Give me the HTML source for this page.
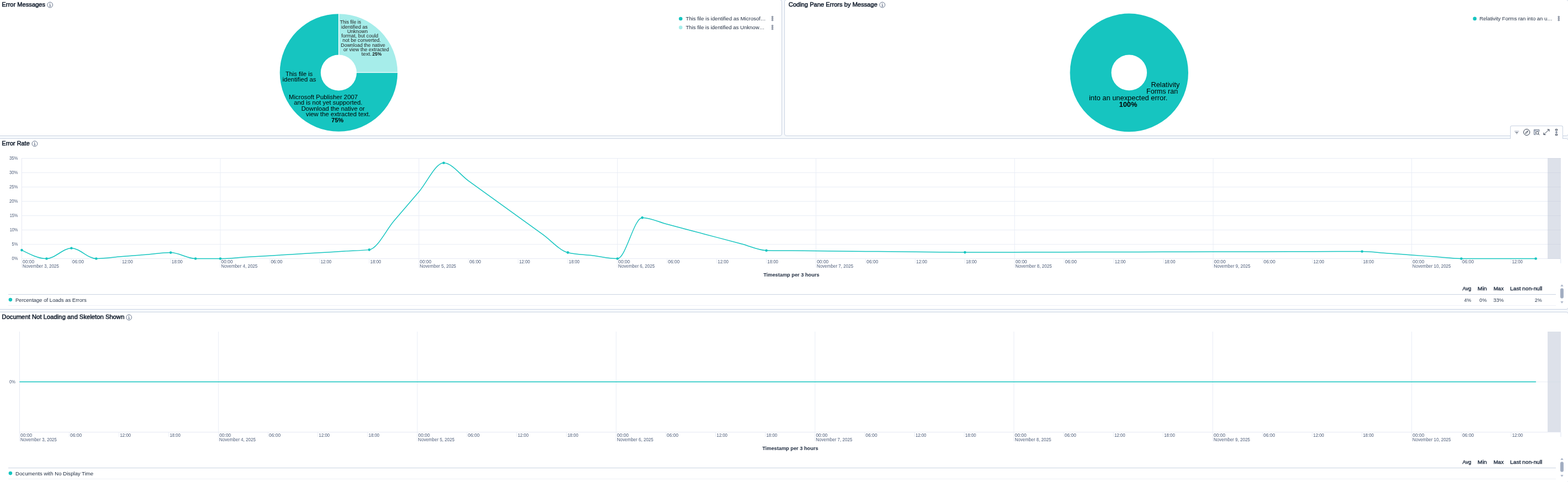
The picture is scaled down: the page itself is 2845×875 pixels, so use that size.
<!DOCTYPE html>
<html lang="en">
<head>
<meta charset="utf-8">
<title>Dashboard</title>
<style>
html,body{margin:0;padding:0;}
body{width:2845px;height:875px;overflow:hidden;background:#F6F9FC;position:relative;font-family:"Liberation Sans", sans-serif;}
.panel{position:absolute;box-sizing:border-box;background:#fff;border:1px solid #CAD3E2;border-radius:4px;}
#p1{left:-6px;top:-1px;width:1425px;height:248px;}
#p2{left:1423px;top:-1px;width:1423px;height:248px;}
#p3{left:-6px;top:251px;width:2852px;height:311px;}
#p4{left:-6px;top:566px;width:2852px;height:311px;}
#tb{position:absolute;box-sizing:border-box;left:2740px;top:228px;width:96px;height:24px;background:#fff;border:1px solid #CAD3E2;border-bottom:none;border-radius:3px 3px 0 0;}
svg{position:absolute;left:0;top:0;}
text{font-family:"Liberation Sans", sans-serif;}
.ttl{stroke:#111C2C;stroke-width:0.5px;}
.sb{stroke:#1D2A3E;stroke-width:0.35px;}
</style>
</head>
<body>
<div class="panel" id="p1"></div>
<div class="panel" id="p2"></div>
<div class="panel" id="p3"></div>
<div class="panel" id="p4"></div>
<div id="tb"></div>
<svg width="2845" height="875" viewBox="0 0 2845 875">
<text x="3.33" y="12.00" font-size="11" fill="#111C2C" textLength="78.82" lengthAdjust="spacingAndGlyphs" class="ttl">Error Messages</text>
<g stroke="#4A5A76" fill="none" stroke-width="0.85"><circle cx="90.8" cy="8.9" r="4.9"/><path d="M89.7 8.0H90.89999999999999V11.3M89.39999999999999 11.3H92.3" stroke-width="0.9"/><circle cx="90.7" cy="6.300000000000001" r="0.6" fill="#4A5A76" stroke="none"/></g>
<path fill="#A6EDEA" d="M614.50 25.20A106.8 106.8 0 0 1 721.30 132.00L647.10 132.00A32.6 32.6 0 0 0 614.50 99.40Z"/>
<path fill="#16C5C0" d="M721.30 132.00A106.8 106.8 0 1 1 614.50 25.20L614.50 99.40A32.6 32.6 0 1 0 647.10 132.00Z"/>
<path d="M614.7 24.200000000000003V99.9M646.6 131.55H722.3" stroke="#fff" stroke-width="1.3" fill="none"/>
<text x="616.81" y="42.60" font-size="8.3" fill="#222" textLength="38.30" lengthAdjust="spacingAndGlyphs">This file is</text>
<text x="619.10" y="51.70" font-size="8.3" fill="#222" textLength="47.93" lengthAdjust="spacingAndGlyphs">identified as</text>
<text x="629.91" y="59.70" font-size="8.3" fill="#222" textLength="37.37" lengthAdjust="spacingAndGlyphs">Unknown</text>
<text x="619.27" y="67.90" font-size="8.3" fill="#222" textLength="66.91" lengthAdjust="spacingAndGlyphs">format, but could</text>
<text x="621.40" y="75.90" font-size="8.3" fill="#222" textLength="69.62" lengthAdjust="spacingAndGlyphs">not be converted.</text>
<text x="618.27" y="85.00" font-size="8.3" fill="#222" textLength="80.63" lengthAdjust="spacingAndGlyphs">Download the native</text>
<text x="623.12" y="93.00" font-size="8.3" fill="#222" textLength="82.75" lengthAdjust="spacingAndGlyphs">or view the extracted</text>
<text x="655.85" y="100.90" font-size="8.3" fill="#222" textLength="18.33" lengthAdjust="spacingAndGlyphs">text.</text>
<text x="675.61" y="100.90" font-size="8.3" fill="#111" font-weight="bold" textLength="16.81" lengthAdjust="spacingAndGlyphs">25%</text>
<text x="517.95" y="137.70" font-size="10.9" fill="#000" textLength="49.25" lengthAdjust="spacingAndGlyphs">This file is</text>
<text x="512.53" y="147.80" font-size="10.9" fill="#000" textLength="61.08" lengthAdjust="spacingAndGlyphs">identified as</text>
<text x="524.07" y="180.00" font-size="10.9" fill="#000" textLength="125.10" lengthAdjust="spacingAndGlyphs">Microsoft Publisher 2007</text>
<text x="533.22" y="189.80" font-size="10.9" fill="#000" textLength="124.12" lengthAdjust="spacingAndGlyphs">and is not yet supported.</text>
<text x="546.68" y="200.50" font-size="10.9" fill="#000" textLength="115.21" lengthAdjust="spacingAndGlyphs">Download the native or</text>
<text x="554.96" y="210.80" font-size="10.9" fill="#000" textLength="116.88" lengthAdjust="spacingAndGlyphs">view the extracted text.</text>
<text x="601.32" y="221.80" font-size="10.9" fill="#000" font-weight="bold" textLength="22.17" lengthAdjust="spacingAndGlyphs">75%</text>
<circle cx="1235.0" cy="34.0" r="3.3" fill="#16C5C0"/>
<text x="1244.28" y="36.70" font-size="9.4" fill="#1D2A3E" textLength="145.12" lengthAdjust="spacingAndGlyphs">This file is identified as Microsof…</text>
<g fill="none" stroke="#3A4761" stroke-width="0.7"><rect x="1400.35" y="29.6" width="2.3" height="1.8" rx="0.2"/><rect x="1400.35" y="32.7" width="2.3" height="1.8" rx="0.2"/><rect x="1400.35" y="35.800000000000004" width="2.3" height="1.8" rx="0.2"/></g>
<circle cx="1235.0" cy="49.9" r="3.3" fill="#A6EDEA"/>
<text x="1244.29" y="52.80" font-size="9.4" fill="#1D2A3E" textLength="142.81" lengthAdjust="spacingAndGlyphs">This file is identified as Unknow…</text>
<g fill="none" stroke="#3A4761" stroke-width="0.7"><rect x="1400.35" y="45.7" width="2.3" height="1.8" rx="0.2"/><rect x="1400.35" y="48.800000000000004" width="2.3" height="1.8" rx="0.2"/><rect x="1400.35" y="51.900000000000006" width="2.3" height="1.8" rx="0.2"/></g>
<text x="1430.68" y="12.00" font-size="11" fill="#111C2C" textLength="161.26" lengthAdjust="spacingAndGlyphs" class="ttl">Coding Pane Errors by Message</text>
<g stroke="#4A5A76" fill="none" stroke-width="0.85"><circle cx="1600.9" cy="8.9" r="4.9"/><path d="M1599.8000000000002 8.0H1601.0V11.3M1599.5 11.3H1602.4" stroke-width="0.9"/><circle cx="1600.8000000000002" cy="6.300000000000001" r="0.6" fill="#4A5A76" stroke="none"/></g>
<path fill="#16C5C0" fill-rule="evenodd" d="M1941.3999999999999 131.9a107.3 107.3 0 1 0 214.6 0a107.3 107.3 0 1 0 -214.6 0zM2016.3999999999999 131.9a32.3 32.3 0 1 0 64.6 0a32.3 32.3 0 1 0 -64.6 0z"/>
<text x="2088.45" y="157.60" font-size="11.9" fill="#000" textLength="52.08" lengthAdjust="spacingAndGlyphs">Relativity</text>
<text x="2080.07" y="169.80" font-size="11.9" fill="#000" textLength="57.14" lengthAdjust="spacingAndGlyphs">Forms ran</text>
<text x="1975.94" y="182.30" font-size="11.9" fill="#000" textLength="142.43" lengthAdjust="spacingAndGlyphs">into an unexpected error.</text>
<text x="2030.59" y="193.80" font-size="11.9" fill="#000" font-weight="bold" textLength="32.74" lengthAdjust="spacingAndGlyphs">100%</text>
<circle cx="2675.8" cy="33.9" r="3.3" fill="#16C5C0"/>
<text x="2684.53" y="36.70" font-size="9.4" fill="#1D2A3E" textLength="132.05" lengthAdjust="spacingAndGlyphs">Relativity Forms ran into an u…</text>
<g fill="none" stroke="#3A4761" stroke-width="0.7"><rect x="2827.0499999999997" y="29.6" width="2.3" height="1.8" rx="0.2"/><rect x="2827.0499999999997" y="32.7" width="2.3" height="1.8" rx="0.2"/><rect x="2827.0499999999997" y="35.800000000000004" width="2.3" height="1.8" rx="0.2"/></g>
<text x="3.35" y="264.00" font-size="11" fill="#111C2C" textLength="50.38" lengthAdjust="spacingAndGlyphs" class="ttl">Error Rate</text>
<g stroke="#4A5A76" fill="none" stroke-width="0.85"><circle cx="63.0" cy="260.9" r="4.9"/><path d="M61.9 260.0H63.1V263.29999999999995M61.6 263.29999999999995H64.5" stroke-width="0.9"/><circle cx="62.9" cy="258.29999999999995" r="0.6" fill="#4A5A76" stroke="none"/></g>
<rect x="2808" y="287" width="24" height="182.5" fill="#DDE1EA"/>
<line x1="39.5" y1="469.5" x2="2832.0" y2="469.5" stroke="#E6E9F3" stroke-width="1" />
<line x1="2808" y1="469.5" x2="2832" y2="469.5" stroke="#D3D8E4" stroke-width="1" />
<text x="21.51" y="472.25" font-size="8.2" fill="#505F7B" textLength="10.86" lengthAdjust="spacingAndGlyphs">0%</text>
<line x1="39.5" y1="443.5" x2="2832.0" y2="443.5" stroke="#E9EDF6" stroke-width="1" />
<line x1="2808" y1="443.5" x2="2832" y2="443.5" stroke="#D3D8E4" stroke-width="1" />
<text x="21.50" y="446.25" font-size="8.2" fill="#505F7B" textLength="10.87" lengthAdjust="spacingAndGlyphs">5%</text>
<line x1="39.5" y1="417.5" x2="2832.0" y2="417.5" stroke="#E9EDF6" stroke-width="1" />
<line x1="2808" y1="417.5" x2="2832" y2="417.5" stroke="#D3D8E4" stroke-width="1" />
<text x="17.64" y="420.25" font-size="8.2" fill="#505F7B" textLength="14.72" lengthAdjust="spacingAndGlyphs">10%</text>
<line x1="39.5" y1="391.5" x2="2832.0" y2="391.5" stroke="#E9EDF6" stroke-width="1" />
<line x1="2808" y1="391.5" x2="2832" y2="391.5" stroke="#D3D8E4" stroke-width="1" />
<text x="17.64" y="394.25" font-size="8.2" fill="#505F7B" textLength="14.72" lengthAdjust="spacingAndGlyphs">15%</text>
<line x1="39.5" y1="365.5" x2="2832.0" y2="365.5" stroke="#E9EDF6" stroke-width="1" />
<line x1="2808" y1="365.5" x2="2832" y2="365.5" stroke="#D3D8E4" stroke-width="1" />
<text x="16.91" y="368.25" font-size="8.2" fill="#505F7B" textLength="15.46" lengthAdjust="spacingAndGlyphs">20%</text>
<line x1="39.5" y1="339.5" x2="2832.0" y2="339.5" stroke="#E9EDF6" stroke-width="1" />
<line x1="2808" y1="339.5" x2="2832" y2="339.5" stroke="#D3D8E4" stroke-width="1" />
<text x="16.91" y="342.25" font-size="8.2" fill="#505F7B" textLength="15.46" lengthAdjust="spacingAndGlyphs">25%</text>
<line x1="39.5" y1="313.5" x2="2832.0" y2="313.5" stroke="#E9EDF6" stroke-width="1" />
<line x1="2808" y1="313.5" x2="2832" y2="313.5" stroke="#D3D8E4" stroke-width="1" />
<text x="17.01" y="316.25" font-size="8.2" fill="#505F7B" textLength="15.37" lengthAdjust="spacingAndGlyphs">30%</text>
<line x1="39.5" y1="287.5" x2="2832.0" y2="287.5" stroke="#E9EDF6" stroke-width="1" />
<line x1="2808" y1="287.5" x2="2832" y2="287.5" stroke="#D3D8E4" stroke-width="1" />
<text x="17.01" y="290.25" font-size="8.2" fill="#505F7B" textLength="15.37" lengthAdjust="spacingAndGlyphs">35%</text>
<line x1="39.50" y1="287" x2="39.50" y2="486.00" stroke="#E6E9F3" stroke-width="1" />
<text x="41.07" y="477.90" font-size="8.2" fill="#505F7B" textLength="21.16" lengthAdjust="spacingAndGlyphs">00:00</text>
<text x="40.94" y="485.80" font-size="8.2" fill="#505F7B" textLength="66.10" lengthAdjust="spacingAndGlyphs">November 3, 2025</text>
<line x1="129.57" y1="469.50" x2="129.57" y2="478.00" stroke="#E9EDF6" stroke-width="1" />
<text x="131.14" y="477.90" font-size="8.2" fill="#505F7B" textLength="21.16" lengthAdjust="spacingAndGlyphs">06:00</text>
<line x1="219.64" y1="469.50" x2="219.64" y2="478.00" stroke="#E9EDF6" stroke-width="1" />
<text x="221.49" y="477.90" font-size="8.2" fill="#505F7B" textLength="19.60" lengthAdjust="spacingAndGlyphs">12:00</text>
<line x1="309.70" y1="469.50" x2="309.70" y2="478.00" stroke="#E9EDF6" stroke-width="1" />
<text x="311.56" y="477.90" font-size="8.2" fill="#505F7B" textLength="19.60" lengthAdjust="spacingAndGlyphs">18:00</text>
<line x1="399.77" y1="287" x2="399.77" y2="486.00" stroke="#E9EDF6" stroke-width="1" />
<text x="401.34" y="477.90" font-size="8.2" fill="#505F7B" textLength="21.16" lengthAdjust="spacingAndGlyphs">00:00</text>
<text x="401.21" y="485.80" font-size="8.2" fill="#505F7B" textLength="66.10" lengthAdjust="spacingAndGlyphs">November 4, 2025</text>
<line x1="489.84" y1="469.50" x2="489.84" y2="478.00" stroke="#E9EDF6" stroke-width="1" />
<text x="491.41" y="477.90" font-size="8.2" fill="#505F7B" textLength="21.16" lengthAdjust="spacingAndGlyphs">06:00</text>
<line x1="579.91" y1="469.50" x2="579.91" y2="478.00" stroke="#E9EDF6" stroke-width="1" />
<text x="581.76" y="477.90" font-size="8.2" fill="#505F7B" textLength="19.60" lengthAdjust="spacingAndGlyphs">12:00</text>
<line x1="669.98" y1="469.50" x2="669.98" y2="478.00" stroke="#E9EDF6" stroke-width="1" />
<text x="671.83" y="477.90" font-size="8.2" fill="#505F7B" textLength="19.60" lengthAdjust="spacingAndGlyphs">18:00</text>
<line x1="760.04" y1="287" x2="760.04" y2="486.00" stroke="#E9EDF6" stroke-width="1" />
<text x="761.61" y="477.90" font-size="8.2" fill="#505F7B" textLength="21.16" lengthAdjust="spacingAndGlyphs">00:00</text>
<text x="761.48" y="485.80" font-size="8.2" fill="#505F7B" textLength="66.10" lengthAdjust="spacingAndGlyphs">November 5, 2025</text>
<line x1="850.11" y1="469.50" x2="850.11" y2="478.00" stroke="#E9EDF6" stroke-width="1" />
<text x="851.68" y="477.90" font-size="8.2" fill="#505F7B" textLength="21.16" lengthAdjust="spacingAndGlyphs">06:00</text>
<line x1="940.18" y1="469.50" x2="940.18" y2="478.00" stroke="#E9EDF6" stroke-width="1" />
<text x="942.03" y="477.90" font-size="8.2" fill="#505F7B" textLength="19.60" lengthAdjust="spacingAndGlyphs">12:00</text>
<line x1="1030.25" y1="469.50" x2="1030.25" y2="478.00" stroke="#E9EDF6" stroke-width="1" />
<text x="1032.10" y="477.90" font-size="8.2" fill="#505F7B" textLength="19.60" lengthAdjust="spacingAndGlyphs">18:00</text>
<line x1="1120.31" y1="287" x2="1120.31" y2="486.00" stroke="#E9EDF6" stroke-width="1" />
<text x="1121.88" y="477.90" font-size="8.2" fill="#505F7B" textLength="21.16" lengthAdjust="spacingAndGlyphs">00:00</text>
<text x="1121.76" y="485.80" font-size="8.2" fill="#505F7B" textLength="66.10" lengthAdjust="spacingAndGlyphs">November 6, 2025</text>
<line x1="1210.38" y1="469.50" x2="1210.38" y2="478.00" stroke="#E9EDF6" stroke-width="1" />
<text x="1211.95" y="477.90" font-size="8.2" fill="#505F7B" textLength="21.16" lengthAdjust="spacingAndGlyphs">06:00</text>
<line x1="1300.45" y1="469.50" x2="1300.45" y2="478.00" stroke="#E9EDF6" stroke-width="1" />
<text x="1302.30" y="477.90" font-size="8.2" fill="#505F7B" textLength="19.60" lengthAdjust="spacingAndGlyphs">12:00</text>
<line x1="1390.52" y1="469.50" x2="1390.52" y2="478.00" stroke="#E9EDF6" stroke-width="1" />
<text x="1392.37" y="477.90" font-size="8.2" fill="#505F7B" textLength="19.60" lengthAdjust="spacingAndGlyphs">18:00</text>
<line x1="1480.59" y1="287" x2="1480.59" y2="486.00" stroke="#E9EDF6" stroke-width="1" />
<text x="1482.16" y="477.90" font-size="8.2" fill="#505F7B" textLength="21.16" lengthAdjust="spacingAndGlyphs">00:00</text>
<text x="1482.03" y="485.80" font-size="8.2" fill="#505F7B" textLength="66.10" lengthAdjust="spacingAndGlyphs">November 7, 2025</text>
<line x1="1570.65" y1="469.50" x2="1570.65" y2="478.00" stroke="#E9EDF6" stroke-width="1" />
<text x="1572.22" y="477.90" font-size="8.2" fill="#505F7B" textLength="21.16" lengthAdjust="spacingAndGlyphs">06:00</text>
<line x1="1660.72" y1="469.50" x2="1660.72" y2="478.00" stroke="#E9EDF6" stroke-width="1" />
<text x="1662.57" y="477.90" font-size="8.2" fill="#505F7B" textLength="19.60" lengthAdjust="spacingAndGlyphs">12:00</text>
<line x1="1750.79" y1="469.50" x2="1750.79" y2="478.00" stroke="#E9EDF6" stroke-width="1" />
<text x="1752.64" y="477.90" font-size="8.2" fill="#505F7B" textLength="19.60" lengthAdjust="spacingAndGlyphs">18:00</text>
<line x1="1840.86" y1="287" x2="1840.86" y2="486.00" stroke="#E9EDF6" stroke-width="1" />
<text x="1842.43" y="477.90" font-size="8.2" fill="#505F7B" textLength="21.16" lengthAdjust="spacingAndGlyphs">00:00</text>
<text x="1842.30" y="485.80" font-size="8.2" fill="#505F7B" textLength="66.10" lengthAdjust="spacingAndGlyphs">November 8, 2025</text>
<line x1="1930.93" y1="469.50" x2="1930.93" y2="478.00" stroke="#E9EDF6" stroke-width="1" />
<text x="1932.49" y="477.90" font-size="8.2" fill="#505F7B" textLength="21.16" lengthAdjust="spacingAndGlyphs">06:00</text>
<line x1="2020.99" y1="469.50" x2="2020.99" y2="478.00" stroke="#E9EDF6" stroke-width="1" />
<text x="2022.85" y="477.90" font-size="8.2" fill="#505F7B" textLength="19.60" lengthAdjust="spacingAndGlyphs">12:00</text>
<line x1="2111.06" y1="469.50" x2="2111.06" y2="478.00" stroke="#E9EDF6" stroke-width="1" />
<text x="2112.91" y="477.90" font-size="8.2" fill="#505F7B" textLength="19.60" lengthAdjust="spacingAndGlyphs">18:00</text>
<line x1="2201.13" y1="287" x2="2201.13" y2="486.00" stroke="#E9EDF6" stroke-width="1" />
<text x="2202.70" y="477.90" font-size="8.2" fill="#505F7B" textLength="21.16" lengthAdjust="spacingAndGlyphs">00:00</text>
<text x="2202.57" y="485.80" font-size="8.2" fill="#505F7B" textLength="66.10" lengthAdjust="spacingAndGlyphs">November 9, 2025</text>
<line x1="2291.20" y1="469.50" x2="2291.20" y2="478.00" stroke="#E9EDF6" stroke-width="1" />
<text x="2292.77" y="477.90" font-size="8.2" fill="#505F7B" textLength="21.16" lengthAdjust="spacingAndGlyphs">06:00</text>
<line x1="2381.26" y1="469.50" x2="2381.26" y2="478.00" stroke="#E9EDF6" stroke-width="1" />
<text x="2383.12" y="477.90" font-size="8.2" fill="#505F7B" textLength="19.60" lengthAdjust="spacingAndGlyphs">12:00</text>
<line x1="2471.33" y1="469.50" x2="2471.33" y2="478.00" stroke="#E9EDF6" stroke-width="1" />
<text x="2473.19" y="477.90" font-size="8.2" fill="#505F7B" textLength="19.60" lengthAdjust="spacingAndGlyphs">18:00</text>
<line x1="2561.40" y1="287" x2="2561.40" y2="486.00" stroke="#E9EDF6" stroke-width="1" />
<text x="2562.97" y="477.90" font-size="8.2" fill="#505F7B" textLength="21.16" lengthAdjust="spacingAndGlyphs">00:00</text>
<text x="2562.85" y="485.80" font-size="8.2" fill="#505F7B" textLength="69.58" lengthAdjust="spacingAndGlyphs">November 10, 2025</text>
<line x1="2651.47" y1="469.50" x2="2651.47" y2="478.00" stroke="#E9EDF6" stroke-width="1" />
<text x="2653.04" y="477.90" font-size="8.2" fill="#505F7B" textLength="21.16" lengthAdjust="spacingAndGlyphs">06:00</text>
<line x1="2741.54" y1="469.50" x2="2741.54" y2="478.00" stroke="#E9EDF6" stroke-width="1" />
<text x="2743.39" y="477.90" font-size="8.2" fill="#505F7B" textLength="19.60" lengthAdjust="spacingAndGlyphs">12:00</text>
<line x1="2831.60" y1="469.50" x2="2831.60" y2="478.00" stroke="#E9EDF6" stroke-width="1" />
<line x1="2832.0" y1="469.5" x2="2832.0" y2="478.0" stroke="#E9EDF6" stroke-width="1" />
<text x="1385.15" y="502.00" font-size="9.4" fill="#1D2A3E" font-weight="bold" textLength="101.48" lengthAdjust="spacingAndGlyphs">Timestamp per 3 hours</text>
<path d="M39.50,454.11C54.51,461.80,69.52,469.50,84.53,469.50C99.55,469.50,114.56,450.52,129.57,450.52C144.58,450.52,159.59,469.50,174.60,469.50C189.61,469.50,204.62,467.07,219.64,465.86C234.65,464.65,249.66,463.43,264.67,462.22C279.68,461.01,294.69,458.58,309.70,458.58C324.71,458.58,339.73,469.50,354.74,469.50C369.75,469.50,384.76,469.50,399.77,469.50C414.78,469.50,429.79,467.71,444.81,466.81C459.82,465.92,474.83,465.02,489.84,464.13C504.85,463.23,519.86,462.34,534.87,461.44C549.88,460.54,564.90,459.65,579.91,458.75C594.92,457.86,609.93,456.96,624.94,456.07C639.95,455.17,654.96,455.17,669.98,453.38C684.99,451.59,700.00,418.37,715.01,400.86C730.02,383.35,745.03,365.85,760.04,348.34C775.05,330.83,790.07,295.82,805.08,295.82C820.09,295.82,835.10,317.50,850.11,328.34C865.12,339.18,880.13,350.02,895.14,360.86C910.16,371.70,925.17,382.54,940.18,393.38C955.19,404.22,970.20,415.06,985.21,425.90C1000.22,436.74,1015.24,454.73,1030.25,458.42C1045.26,462.12,1060.27,462.12,1075.28,463.96C1090.29,465.81,1105.30,469.50,1120.31,469.50C1135.33,469.50,1150.34,395.14,1165.35,395.14C1180.36,395.14,1195.37,403.08,1210.38,407.05C1225.39,411.02,1240.40,414.99,1255.42,418.96C1270.43,422.93,1285.44,426.89,1300.45,430.86C1315.46,434.83,1330.47,438.80,1345.48,442.77C1360.50,446.74,1375.51,454.39,1390.52,454.68C1405.53,454.97,1420.54,454.97,1435.55,455.11C1450.56,455.25,1465.57,455.40,1480.59,455.54C1495.60,455.68,1510.61,455.82,1525.62,455.97C1540.63,456.11,1555.64,456.25,1570.65,456.40C1585.66,456.54,1600.68,456.68,1615.69,456.82C1630.70,456.97,1645.71,457.11,1660.72,457.25C1675.73,457.40,1690.74,457.54,1705.76,457.68C1720.77,457.83,1735.78,458.11,1750.79,458.11C1765.80,458.11,1780.81,458.04,1795.82,458.01C1810.83,457.98,1825.85,457.94,1840.86,457.91C1855.87,457.88,1870.88,457.84,1885.89,457.81C1900.90,457.78,1915.91,457.74,1930.93,457.71C1945.94,457.68,1960.95,457.64,1975.96,457.61C1990.97,457.57,2005.98,457.54,2020.99,457.51C2036.00,457.47,2051.02,457.44,2066.03,457.41C2081.04,457.37,2096.05,457.34,2111.06,457.31C2126.07,457.27,2141.08,457.24,2156.09,457.21C2171.11,457.17,2186.12,457.14,2201.13,457.10C2216.14,457.07,2231.15,457.04,2246.16,457.00C2261.17,456.97,2276.19,456.94,2291.20,456.90C2306.21,456.87,2321.22,456.84,2336.23,456.80C2351.24,456.77,2366.25,456.74,2381.26,456.70C2396.28,456.67,2411.29,456.63,2426.30,456.60C2441.31,456.57,2456.32,456.50,2471.33,456.50C2486.34,456.50,2501.35,458.67,2516.37,459.75C2531.38,460.83,2546.39,461.92,2561.40,463.00C2576.41,464.08,2591.42,465.17,2606.43,466.25C2621.45,467.33,2636.46,469.50,2651.47,469.50C2666.48,469.50,2681.49,469.50,2696.50,469.50C2711.51,469.50,2726.52,469.50,2741.54,469.50C2756.55,469.50,2771.56,469.50,2786.57,469.50" fill="none" stroke="#16C5C0" stroke-width="1.5" stroke-linejoin="round"/>
<circle cx="39.50" cy="454.11" r="2.3" fill="#16C5C0"/>
<circle cx="84.53" cy="469.50" r="2.3" fill="#16C5C0"/>
<circle cx="129.57" cy="450.52" r="2.3" fill="#16C5C0"/>
<circle cx="174.60" cy="469.50" r="2.3" fill="#16C5C0"/>
<circle cx="309.70" cy="458.58" r="2.3" fill="#16C5C0"/>
<circle cx="354.74" cy="469.50" r="2.3" fill="#16C5C0"/>
<circle cx="399.77" cy="469.50" r="2.3" fill="#16C5C0"/>
<circle cx="669.98" cy="453.38" r="2.3" fill="#16C5C0"/>
<circle cx="805.08" cy="295.82" r="2.3" fill="#16C5C0"/>
<circle cx="1030.25" cy="458.42" r="2.3" fill="#16C5C0"/>
<circle cx="1120.31" cy="469.50" r="2.3" fill="#16C5C0"/>
<circle cx="1165.35" cy="395.14" r="2.3" fill="#16C5C0"/>
<circle cx="1390.52" cy="454.68" r="2.3" fill="#16C5C0"/>
<circle cx="1750.79" cy="458.11" r="2.3" fill="#16C5C0"/>
<circle cx="2471.33" cy="456.50" r="2.3" fill="#16C5C0"/>
<circle cx="2651.47" cy="469.50" r="2.3" fill="#16C5C0"/>
<circle cx="2786.57" cy="469.50" r="2.3" fill="#16C5C0"/>
<circle cx="18.9" cy="544.1" r="3.3" fill="#16C5C0"/>
<text x="28.02" y="548.00" font-size="9.4" fill="#1D2A3E" textLength="128.92" lengthAdjust="spacingAndGlyphs">Percentage of Loads as Errors</text>
<line x1="15" y1="534.5" x2="2823" y2="534.5" stroke="#CAD3E2" stroke-width="1" />
<line x1="15" y1="554.5" x2="2823" y2="554.5" stroke="#EEF1F7" stroke-width="1" />
<text x="2653.46" y="527.00" font-size="9.4" fill="#1D2A3E" textLength="16.17" lengthAdjust="spacingAndGlyphs" class="sb">Avg</text>
<text x="2681.13" y="527.00" font-size="9.4" fill="#1D2A3E" textLength="16.67" lengthAdjust="spacingAndGlyphs" class="sb">Min</text>
<text x="2709.98" y="527.00" font-size="9.4" fill="#1D2A3E" textLength="18.25" lengthAdjust="spacingAndGlyphs" class="sb">Max</text>
<text x="2740.14" y="527.00" font-size="9.4" fill="#1D2A3E" textLength="58.06" lengthAdjust="spacingAndGlyphs" class="sb">Last non-null</text>
<text x="2656.59" y="547.80" font-size="9.4" fill="#2B394F" textLength="12.92" lengthAdjust="spacingAndGlyphs">4%</text>
<text x="2684.34" y="547.80" font-size="9.4" fill="#2B394F" textLength="13.29" lengthAdjust="spacingAndGlyphs">0%</text>
<text x="2709.43" y="547.80" font-size="9.4" fill="#2B394F" textLength="19.21" lengthAdjust="spacingAndGlyphs">33%</text>
<text x="2784.75" y="547.80" font-size="9.4" fill="#2B394F" textLength="12.86" lengthAdjust="spacingAndGlyphs">2%</text>
<path d="M2831.4 519.9L2834.0 515.9L2836.6 519.9Z" fill="#AEB8CA"/>
<rect x="2831.0" y="523.2" width="6" height="18.6" rx="3" fill="#A3AEC2"/>
<path d="M2831.4 547.1L2834.0 551.1L2836.6 547.1Z" fill="#AEB8CA"/>
<text x="3.32" y="579.00" font-size="11" fill="#111C2C" textLength="222.46" lengthAdjust="spacingAndGlyphs" class="ttl">Document Not Loading and Skeleton Shown</text>
<g stroke="#4A5A76" fill="none" stroke-width="0.85"><circle cx="234.0" cy="576.2" r="4.9"/><path d="M232.9 575.3000000000001H234.1V578.6M232.6 578.6H235.5" stroke-width="0.9"/><circle cx="233.9" cy="573.6" r="0.6" fill="#4A5A76" stroke="none"/></g>
<rect x="2808" y="602" width="24" height="182.5" fill="#DDE1EA"/>
<line x1="35.5" y1="784.5" x2="2832.0" y2="784.5" stroke="#E6E9F3" stroke-width="1" />
<line x1="35.5" y1="693.2" x2="2832.0" y2="693.2" stroke="#E9EDF6" stroke-width="1" />
<line x1="2808" y1="693.2" x2="2832" y2="693.2" stroke="#D3D8E4" stroke-width="1" />
<line x1="35.50" y1="602" x2="35.50" y2="801.00" stroke="#E6E9F3" stroke-width="1" />
<text x="37.07" y="792.90" font-size="8.2" fill="#505F7B" textLength="21.16" lengthAdjust="spacingAndGlyphs">00:00</text>
<text x="36.94" y="800.80" font-size="8.2" fill="#505F7B" textLength="66.10" lengthAdjust="spacingAndGlyphs">November 3, 2025</text>
<line x1="125.71" y1="784.50" x2="125.71" y2="793.00" stroke="#E9EDF6" stroke-width="1" />
<text x="127.28" y="792.90" font-size="8.2" fill="#505F7B" textLength="21.16" lengthAdjust="spacingAndGlyphs">06:00</text>
<line x1="215.92" y1="784.50" x2="215.92" y2="793.00" stroke="#E9EDF6" stroke-width="1" />
<text x="217.77" y="792.90" font-size="8.2" fill="#505F7B" textLength="19.60" lengthAdjust="spacingAndGlyphs">12:00</text>
<line x1="306.13" y1="784.50" x2="306.13" y2="793.00" stroke="#E9EDF6" stroke-width="1" />
<text x="307.98" y="792.90" font-size="8.2" fill="#505F7B" textLength="19.60" lengthAdjust="spacingAndGlyphs">18:00</text>
<line x1="396.34" y1="602" x2="396.34" y2="801.00" stroke="#E9EDF6" stroke-width="1" />
<text x="397.91" y="792.90" font-size="8.2" fill="#505F7B" textLength="21.16" lengthAdjust="spacingAndGlyphs">00:00</text>
<text x="397.78" y="800.80" font-size="8.2" fill="#505F7B" textLength="66.10" lengthAdjust="spacingAndGlyphs">November 4, 2025</text>
<line x1="486.55" y1="784.50" x2="486.55" y2="793.00" stroke="#E9EDF6" stroke-width="1" />
<text x="488.12" y="792.90" font-size="8.2" fill="#505F7B" textLength="21.16" lengthAdjust="spacingAndGlyphs">06:00</text>
<line x1="576.76" y1="784.50" x2="576.76" y2="793.00" stroke="#E9EDF6" stroke-width="1" />
<text x="578.61" y="792.90" font-size="8.2" fill="#505F7B" textLength="19.60" lengthAdjust="spacingAndGlyphs">12:00</text>
<line x1="666.97" y1="784.50" x2="666.97" y2="793.00" stroke="#E9EDF6" stroke-width="1" />
<text x="668.82" y="792.90" font-size="8.2" fill="#505F7B" textLength="19.60" lengthAdjust="spacingAndGlyphs">18:00</text>
<line x1="757.18" y1="602" x2="757.18" y2="801.00" stroke="#E9EDF6" stroke-width="1" />
<text x="758.75" y="792.90" font-size="8.2" fill="#505F7B" textLength="21.16" lengthAdjust="spacingAndGlyphs">00:00</text>
<text x="758.62" y="800.80" font-size="8.2" fill="#505F7B" textLength="66.10" lengthAdjust="spacingAndGlyphs">November 5, 2025</text>
<line x1="847.39" y1="784.50" x2="847.39" y2="793.00" stroke="#E9EDF6" stroke-width="1" />
<text x="848.96" y="792.90" font-size="8.2" fill="#505F7B" textLength="21.16" lengthAdjust="spacingAndGlyphs">06:00</text>
<line x1="937.60" y1="784.50" x2="937.60" y2="793.00" stroke="#E9EDF6" stroke-width="1" />
<text x="939.45" y="792.90" font-size="8.2" fill="#505F7B" textLength="19.60" lengthAdjust="spacingAndGlyphs">12:00</text>
<line x1="1027.81" y1="784.50" x2="1027.81" y2="793.00" stroke="#E9EDF6" stroke-width="1" />
<text x="1029.66" y="792.90" font-size="8.2" fill="#505F7B" textLength="19.60" lengthAdjust="spacingAndGlyphs">18:00</text>
<line x1="1118.02" y1="602" x2="1118.02" y2="801.00" stroke="#E9EDF6" stroke-width="1" />
<text x="1119.59" y="792.90" font-size="8.2" fill="#505F7B" textLength="21.16" lengthAdjust="spacingAndGlyphs">00:00</text>
<text x="1119.46" y="800.80" font-size="8.2" fill="#505F7B" textLength="66.10" lengthAdjust="spacingAndGlyphs">November 6, 2025</text>
<line x1="1208.23" y1="784.50" x2="1208.23" y2="793.00" stroke="#E9EDF6" stroke-width="1" />
<text x="1209.80" y="792.90" font-size="8.2" fill="#505F7B" textLength="21.16" lengthAdjust="spacingAndGlyphs">06:00</text>
<line x1="1298.44" y1="784.50" x2="1298.44" y2="793.00" stroke="#E9EDF6" stroke-width="1" />
<text x="1300.29" y="792.90" font-size="8.2" fill="#505F7B" textLength="19.60" lengthAdjust="spacingAndGlyphs">12:00</text>
<line x1="1388.65" y1="784.50" x2="1388.65" y2="793.00" stroke="#E9EDF6" stroke-width="1" />
<text x="1390.50" y="792.90" font-size="8.2" fill="#505F7B" textLength="19.60" lengthAdjust="spacingAndGlyphs">18:00</text>
<line x1="1478.85" y1="602" x2="1478.85" y2="801.00" stroke="#E9EDF6" stroke-width="1" />
<text x="1480.42" y="792.90" font-size="8.2" fill="#505F7B" textLength="21.16" lengthAdjust="spacingAndGlyphs">00:00</text>
<text x="1480.30" y="800.80" font-size="8.2" fill="#505F7B" textLength="66.10" lengthAdjust="spacingAndGlyphs">November 7, 2025</text>
<line x1="1569.06" y1="784.50" x2="1569.06" y2="793.00" stroke="#E9EDF6" stroke-width="1" />
<text x="1570.63" y="792.90" font-size="8.2" fill="#505F7B" textLength="21.16" lengthAdjust="spacingAndGlyphs">06:00</text>
<line x1="1659.27" y1="784.50" x2="1659.27" y2="793.00" stroke="#E9EDF6" stroke-width="1" />
<text x="1661.13" y="792.90" font-size="8.2" fill="#505F7B" textLength="19.60" lengthAdjust="spacingAndGlyphs">12:00</text>
<line x1="1749.48" y1="784.50" x2="1749.48" y2="793.00" stroke="#E9EDF6" stroke-width="1" />
<text x="1751.34" y="792.90" font-size="8.2" fill="#505F7B" textLength="19.60" lengthAdjust="spacingAndGlyphs">18:00</text>
<line x1="1839.69" y1="602" x2="1839.69" y2="801.00" stroke="#E9EDF6" stroke-width="1" />
<text x="1841.26" y="792.90" font-size="8.2" fill="#505F7B" textLength="21.16" lengthAdjust="spacingAndGlyphs">00:00</text>
<text x="1841.13" y="800.80" font-size="8.2" fill="#505F7B" textLength="66.10" lengthAdjust="spacingAndGlyphs">November 8, 2025</text>
<line x1="1929.90" y1="784.50" x2="1929.90" y2="793.00" stroke="#E9EDF6" stroke-width="1" />
<text x="1931.47" y="792.90" font-size="8.2" fill="#505F7B" textLength="21.16" lengthAdjust="spacingAndGlyphs">06:00</text>
<line x1="2020.11" y1="784.50" x2="2020.11" y2="793.00" stroke="#E9EDF6" stroke-width="1" />
<text x="2021.97" y="792.90" font-size="8.2" fill="#505F7B" textLength="19.60" lengthAdjust="spacingAndGlyphs">12:00</text>
<line x1="2110.32" y1="784.50" x2="2110.32" y2="793.00" stroke="#E9EDF6" stroke-width="1" />
<text x="2112.18" y="792.90" font-size="8.2" fill="#505F7B" textLength="19.60" lengthAdjust="spacingAndGlyphs">18:00</text>
<line x1="2200.53" y1="602" x2="2200.53" y2="801.00" stroke="#E9EDF6" stroke-width="1" />
<text x="2202.10" y="792.90" font-size="8.2" fill="#505F7B" textLength="21.16" lengthAdjust="spacingAndGlyphs">00:00</text>
<text x="2201.97" y="800.80" font-size="8.2" fill="#505F7B" textLength="66.10" lengthAdjust="spacingAndGlyphs">November 9, 2025</text>
<line x1="2290.74" y1="784.50" x2="2290.74" y2="793.00" stroke="#E9EDF6" stroke-width="1" />
<text x="2292.31" y="792.90" font-size="8.2" fill="#505F7B" textLength="21.16" lengthAdjust="spacingAndGlyphs">06:00</text>
<line x1="2380.95" y1="784.50" x2="2380.95" y2="793.00" stroke="#E9EDF6" stroke-width="1" />
<text x="2382.80" y="792.90" font-size="8.2" fill="#505F7B" textLength="19.60" lengthAdjust="spacingAndGlyphs">12:00</text>
<line x1="2471.16" y1="784.50" x2="2471.16" y2="793.00" stroke="#E9EDF6" stroke-width="1" />
<text x="2473.01" y="792.90" font-size="8.2" fill="#505F7B" textLength="19.60" lengthAdjust="spacingAndGlyphs">18:00</text>
<line x1="2561.37" y1="602" x2="2561.37" y2="801.00" stroke="#E9EDF6" stroke-width="1" />
<text x="2562.94" y="792.90" font-size="8.2" fill="#505F7B" textLength="21.16" lengthAdjust="spacingAndGlyphs">00:00</text>
<text x="2562.82" y="800.80" font-size="8.2" fill="#505F7B" textLength="69.58" lengthAdjust="spacingAndGlyphs">November 10, 2025</text>
<line x1="2651.58" y1="784.50" x2="2651.58" y2="793.00" stroke="#E9EDF6" stroke-width="1" />
<text x="2653.15" y="792.90" font-size="8.2" fill="#505F7B" textLength="21.16" lengthAdjust="spacingAndGlyphs">06:00</text>
<line x1="2741.79" y1="784.50" x2="2741.79" y2="793.00" stroke="#E9EDF6" stroke-width="1" />
<text x="2743.64" y="792.90" font-size="8.2" fill="#505F7B" textLength="19.60" lengthAdjust="spacingAndGlyphs">12:00</text>
<line x1="2832.00" y1="784.50" x2="2832.00" y2="793.00" stroke="#E9EDF6" stroke-width="1" />
<line x1="2832.0" y1="784.5" x2="2832.0" y2="793.0" stroke="#E9EDF6" stroke-width="1" />
<text x="17.11" y="695.90" font-size="8.2" fill="#505F7B" textLength="10.86" lengthAdjust="spacingAndGlyphs">0%</text>
<line x1="35.5" y1="693.2" x2="2786.8951612903224" y2="693.2" stroke="#16C5C0" stroke-width="1.5" />
<text x="1383.15" y="817.00" font-size="9.4" fill="#1D2A3E" font-weight="bold" textLength="101.48" lengthAdjust="spacingAndGlyphs">Timestamp per 3 hours</text>
<circle cx="18.9" cy="859.1" r="3.3" fill="#16C5C0"/>
<text x="28.01" y="863.00" font-size="9.4" fill="#1D2A3E" textLength="141.41" lengthAdjust="spacingAndGlyphs">Documents with No Display Time</text>
<line x1="15" y1="849.5" x2="2823" y2="849.5" stroke="#CAD3E2" stroke-width="1" />
<line x1="15" y1="869.5" x2="2823" y2="869.5" stroke="#EEF1F7" stroke-width="1" />
<text x="2653.46" y="842.00" font-size="9.4" fill="#1D2A3E" textLength="16.17" lengthAdjust="spacingAndGlyphs" class="sb">Avg</text>
<text x="2681.13" y="842.00" font-size="9.4" fill="#1D2A3E" textLength="16.67" lengthAdjust="spacingAndGlyphs" class="sb">Min</text>
<text x="2709.98" y="842.00" font-size="9.4" fill="#1D2A3E" textLength="18.25" lengthAdjust="spacingAndGlyphs" class="sb">Max</text>
<text x="2740.14" y="842.00" font-size="9.4" fill="#1D2A3E" textLength="58.06" lengthAdjust="spacingAndGlyphs" class="sb">Last non-null</text>
<path d="M2831.4 834.9L2834.0 830.9L2836.6 834.9Z" fill="#AEB8CA"/>
<rect x="2831.0" y="838.2" width="6" height="18.6" rx="3" fill="#A3AEC2"/>
<path d="M2831.4 862.1L2834.0 866.1L2836.6 862.1Z" fill="#AEB8CA"/>
<g stroke="#1F2B3F" stroke-width="0.9" fill="none" stroke-linecap="round"><path d="M2748.2 238.2H2755.8" stroke="#8E99AD"/><path d="M2750 240.5H2754"/><path d="M2751.2 242.6H2752.8" stroke="#6A7890"/></g>
<g stroke="#1F2B3F" stroke-width="0.9" fill="none"><circle cx="2770.1" cy="240" r="5.6"/><path d="M2772.7 237.4L2770.9 240.8L2767.5 242.6L2769.3 239.2Z" fill="none" stroke-width="0.8" stroke-linejoin="round"/></g>
<g stroke="#1F2B3F" stroke-width="0.9" fill="none"><path d="M2792.7 239V235.4H2783.4V244.4H2786.5" stroke="#55637C"/><path d="M2783.4 237.4H2792.7" stroke="#8893A8"/><path d="M2785.6 235.4V244.4" stroke="#8893A8"/><circle cx="2789.3" cy="241.2" r="2.5"/><path d="M2791.2 243.1L2793 244.9" stroke-linecap="round"/></g>
<g stroke="#1F2B3F" stroke-width="0.9" fill="none" stroke-linecap="round" stroke-linejoin="round"><path d="M2801.2 244.2L2810.6 235.2"/><path d="M2807.6 235H2810.9V238.3"/><path d="M2800.9 241.2V244.5H2804.2"/></g>
<g stroke="#1F2B3F" stroke-width="0.9" fill="none"><rect x="2822.3" y="234.5" width="3.4" height="2.3" rx="0.2"/><circle cx="2824" cy="240.1" r="1.6" fill="#8A93A6" stroke="#7A849A" stroke-width="0.5"/><rect x="2822.3" y="243.4" width="3.4" height="2.3" rx="0.2"/></g>
</svg>
</body>
</html>
